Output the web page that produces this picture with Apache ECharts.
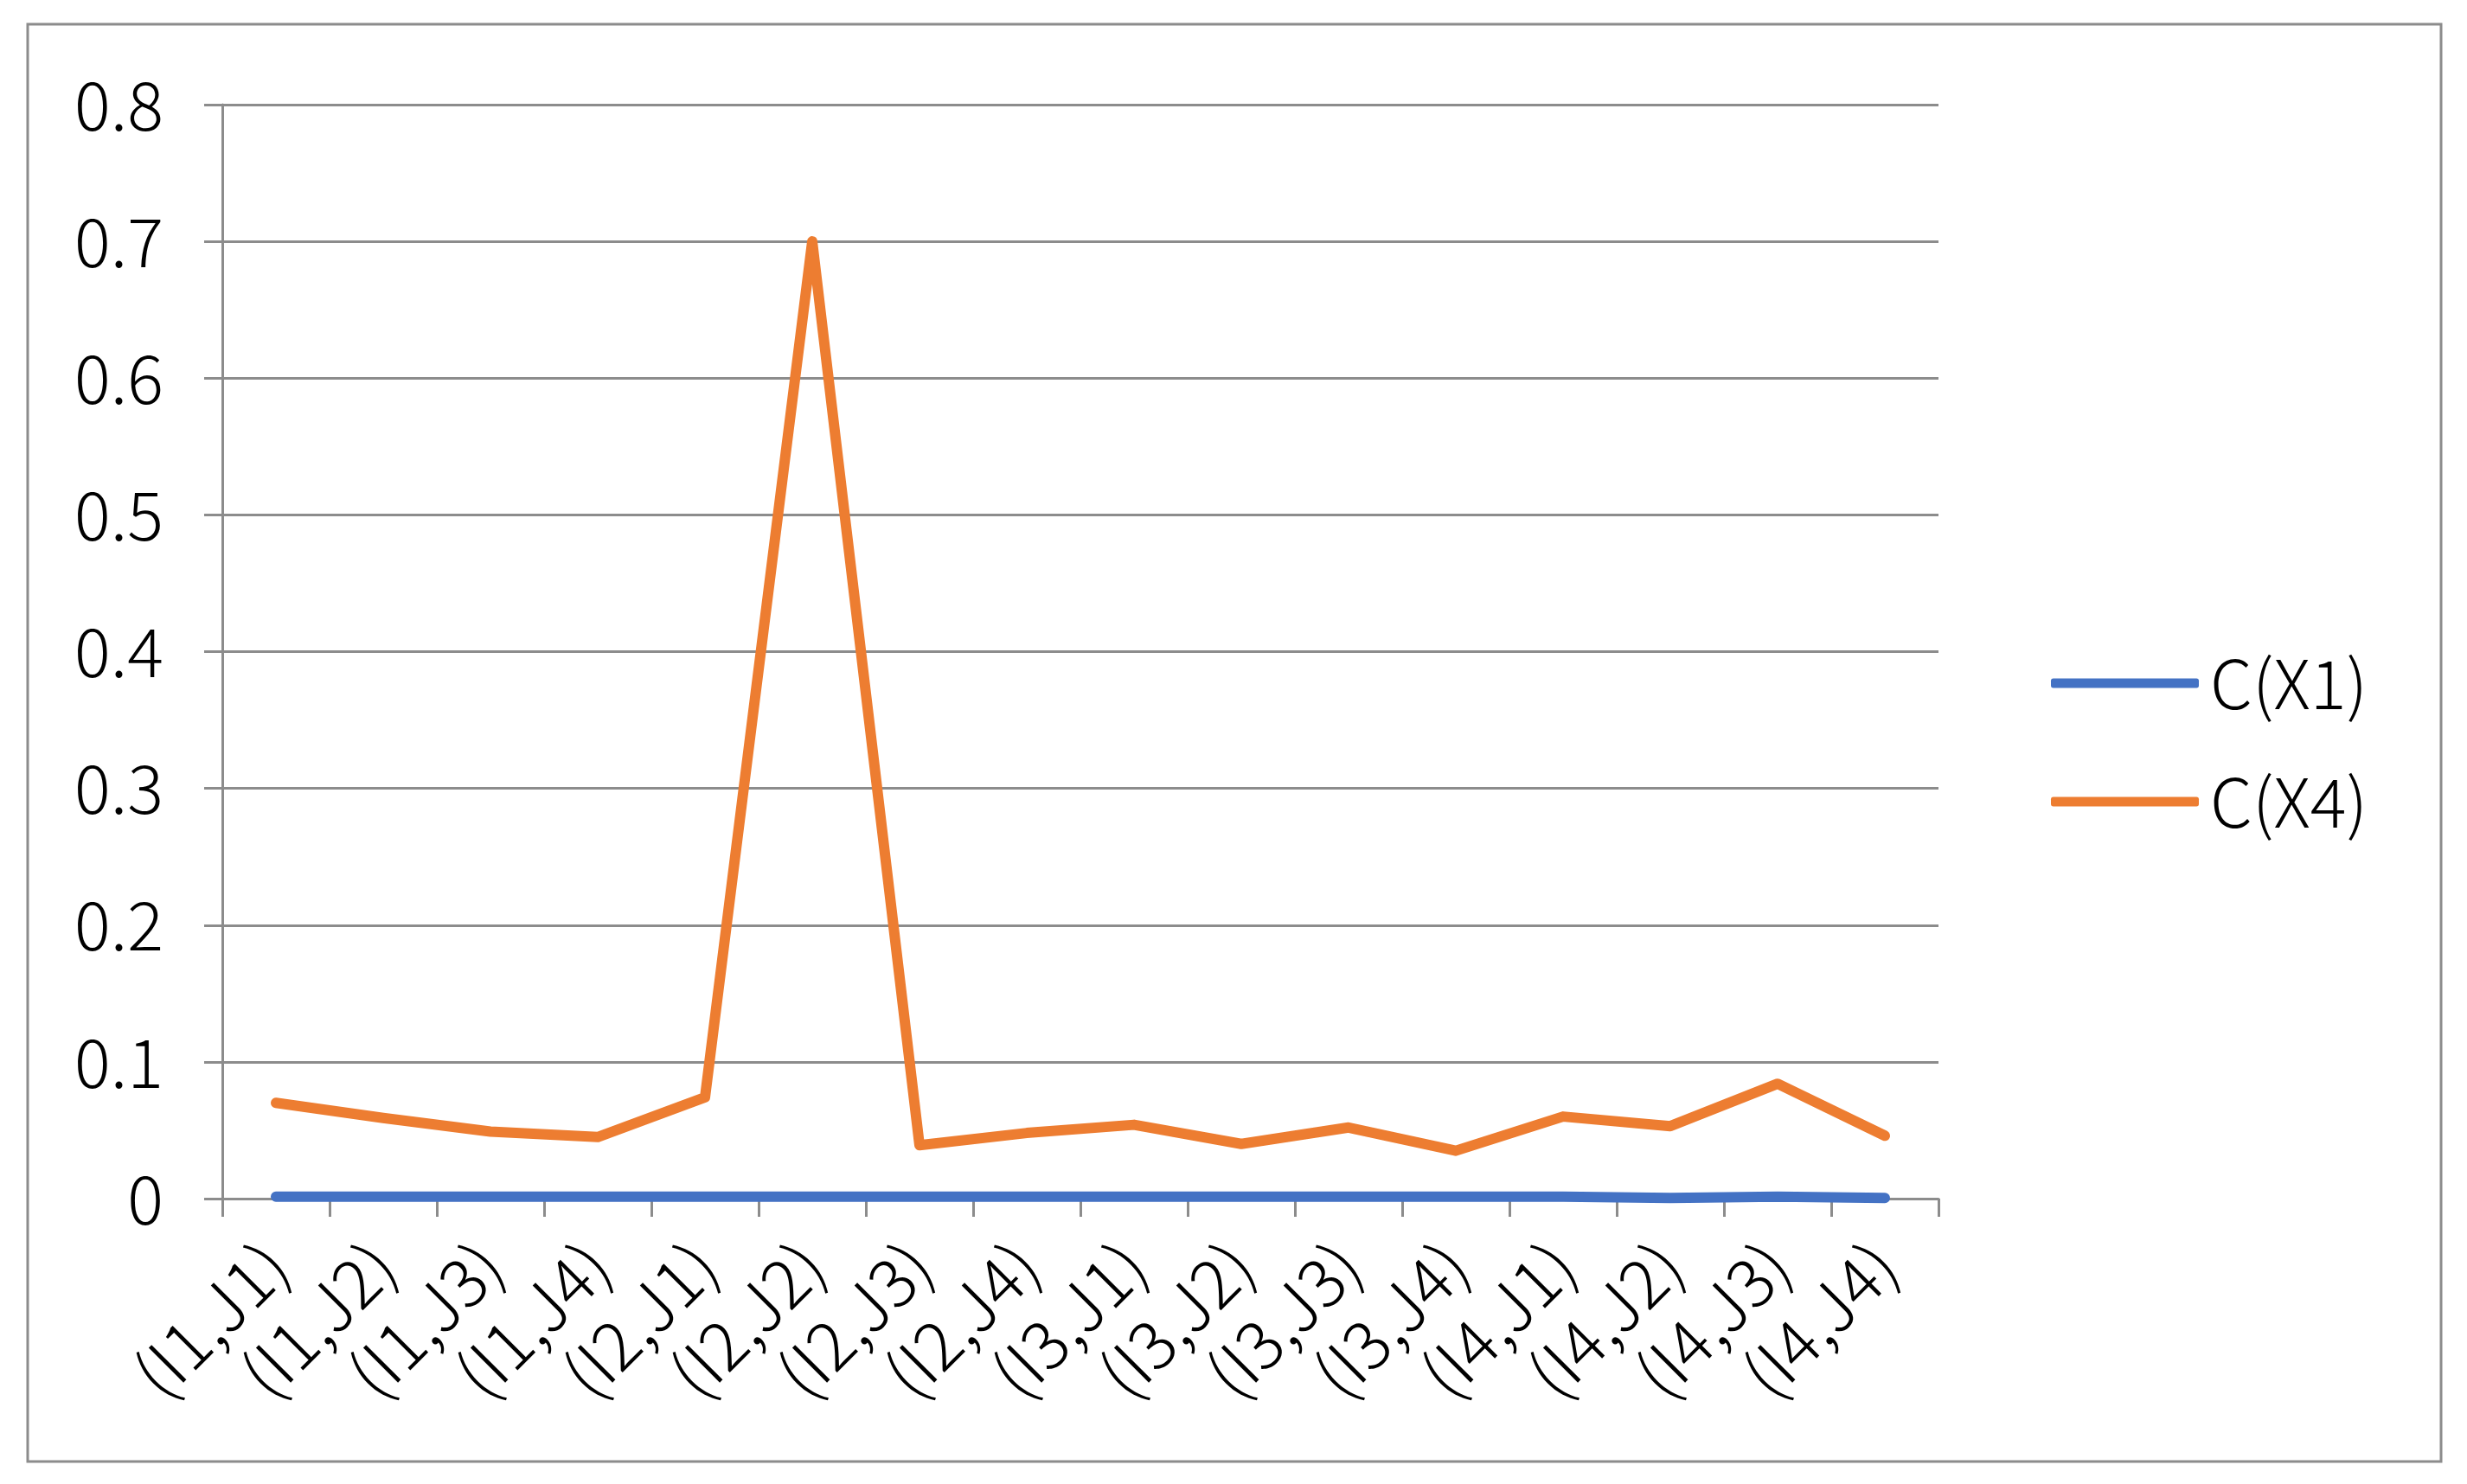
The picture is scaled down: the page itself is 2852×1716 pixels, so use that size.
<!DOCTYPE html>
<html>
<head>
<meta charset="utf-8">
<script src="https://cdn.jsdelivr.net/npm/echarts@6/dist/echarts.min.js"></script>
<style>
  html, body { margin: 0; padding: 0; background: #fff; }
  #chart { width: 2852px; height: 1716px; }
</style>
</head>
<body>
<div id="chart"></div>
<script>
const categories = [
  '(I1,J1)', '(I1,J2)', '(I1,J3)', '(I1,J4)',
  '(I2,J1)', '(I2,J2)', '(I2,J3)', '(I2,J4)',
  '(I3,J1)', '(I3,J2)', '(I3,J3)', '(I3,J4)',
  '(I4,J1)', '(I4,J2)', '(I4,J3)', '(I4,J4)'
]
const cX1 = [
  0.0014, 0.0014, 0.0014, 0.0014,
  0.0014, 0.0014, 0.0014, 0.0014,
  0.0014, 0.0014, 0.0014, 0.0014,
  0.0014, 0.0005, 0.0015, 0.0005
]
const cX4 = [
  0.070, 0.059, 0.049, 0.045,
  0.074, 0.700, 0.039, 0.048,
  0.054, 0.040, 0.052, 0.035,
  0.060, 0.053, 0.084, 0.046
]
const yMin = 0
const yMax = 0.8
const yStep = 0.1

const blue = '#4472C4'
const orange = '#ED7D31'
const gray = '#8c8c8c'
const font = '"Noto Sans CJK SC", "Noto Sans", sans-serif'

const chart = echarts.init(document.getElementById('chart'))
chart.setOption({
  animation: false,
  backgroundColor: '#fff',
  textStyle: { fontFamily: font },
  graphic: [
    {
      type: 'rect',
      shape: { x: 32, y: 28, width: 2790, height: 1662 },
      style: { fill: 'none', stroke: gray, lineWidth: 3 },
      silent: true
    }
  ],
  grid: { left: 257, top: 121, right: 611, bottom: 330 },
  legend: {
    orient: 'vertical',
    left: 2366,
    top: 745,
    itemWidth: 171,
    itemHeight: 11,
    itemGap: 57,
    icon: 'roundRect',
    data: ['C(X1)', 'C(X4)'],
    textStyle: {
      fontFamily: font,
      fontSize: 78,
      fontWeight: 300,
      color: '#000',
      lineHeight: 80,
      padding: [0, 0, 0, 8]
    }
  },
  xAxis: {
    type: 'category',
    data: categories,
    boundaryGap: true,
    axisLine: { lineStyle: { color: gray, width: 3 } },
    axisTick: { show: true, length: 21, interval: 0, lineStyle: { color: gray, width: 3 } },
    axisLabel: {
      interval: 0,
      rotate: 45,
      margin: 64,
      fontFamily: font,
      fontSize: 78,
      fontWeight: 300,
      color: '#000'
    },
    splitLine: { show: false }
  },
  yAxis: {
    type: 'value',
    min: yMin,
    max: yMax,
    interval: yStep,
    axisLine: { show: true, lineStyle: { color: gray, width: 3 } },
    axisTick: { show: true, length: 21, lineStyle: { color: gray, width: 3 } },
    axisLabel: {
      margin: 68,
      fontFamily: font,
      fontSize: 78,
      fontWeight: 300,
      color: '#000',
      formatter: v => String(Math.round(v * 10) / 10)
    },
    splitLine: { show: true, lineStyle: { color: gray, width: 3 } }
  },
  series: [
    {
      name: 'C(X1)',
      type: 'line',
      data: cX1,
      symbol: 'none',
      itemStyle: { color: blue },
      lineStyle: { color: blue, width: 12, cap: 'round', join: 'round' }
    },
    {
      name: 'C(X4)',
      type: 'line',
      data: cX4,
      symbol: 'none',
      itemStyle: { color: orange },
      lineStyle: { color: orange, width: 12, cap: 'round', join: 'round' }
    }
  ]
})
</script>
</body>
</html>
